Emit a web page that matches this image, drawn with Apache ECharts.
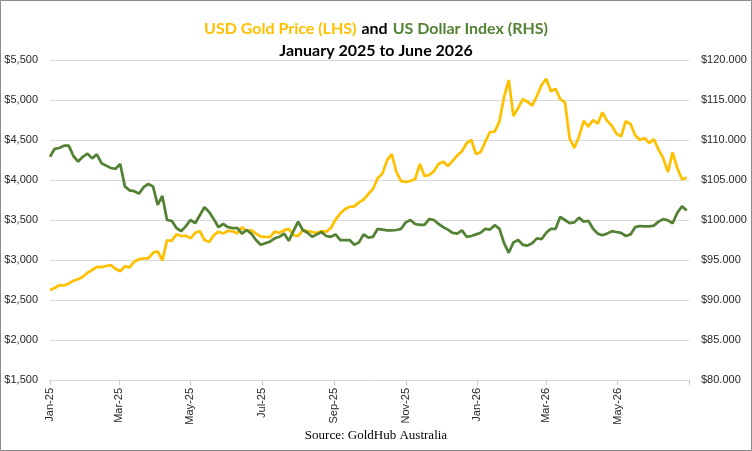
<!DOCTYPE html>
<html>
<head>
<meta charset="utf-8">
<script src="https://cdn.jsdelivr.net/npm/echarts@6/dist/echarts.min.js"></script>
<style>
html,body{margin:0;padding:0;background:#fff;}
#chart{width:752px;height:451px;}
</style>
</head>
<body>
<div id="chart"></div>
<script>
// Dates (every 4 days)
const dates = [
'2025-01-01','2025-01-05','2025-01-09','2025-01-13','2025-01-17','2025-01-21','2025-01-25','2025-01-29','2025-02-02','2025-02-06',
'2025-02-10','2025-02-14','2025-02-18','2025-02-22','2025-02-26','2025-03-02','2025-03-06','2025-03-10','2025-03-14','2025-03-18',
'2025-03-22','2025-03-26','2025-03-30','2025-04-03','2025-04-07','2025-04-11','2025-04-15','2025-04-19','2025-04-23','2025-04-27',
'2025-05-01','2025-05-05','2025-05-09','2025-05-13','2025-05-17','2025-05-21','2025-05-25','2025-05-29','2025-06-02','2025-06-06',
'2025-06-10','2025-06-14','2025-06-18','2025-06-22','2025-06-26','2025-06-30','2025-07-04','2025-07-08','2025-07-12','2025-07-16',
'2025-07-20','2025-07-24','2025-07-28','2025-08-01','2025-08-05','2025-08-09','2025-08-13','2025-08-17','2025-08-21','2025-08-25',
'2025-08-29','2025-09-02','2025-09-06','2025-09-10','2025-09-14','2025-09-18','2025-09-22','2025-09-26','2025-09-30','2025-10-04',
'2025-10-08','2025-10-12','2025-10-16','2025-10-20','2025-10-24','2025-10-28','2025-11-01','2025-11-05','2025-11-09','2025-11-13',
'2025-11-17','2025-11-21','2025-11-25','2025-11-29','2025-12-03','2025-12-07','2025-12-11','2025-12-15','2025-12-19','2025-12-23',
'2025-12-27','2025-12-31','2026-01-04','2026-01-08','2026-01-12','2026-01-16','2026-01-20','2026-01-24','2026-01-28','2026-02-01',
'2026-02-05','2026-02-09','2026-02-13','2026-02-17','2026-02-21','2026-02-25','2026-03-01','2026-03-05','2026-03-09','2026-03-13',
'2026-03-17','2026-03-21','2026-03-25','2026-03-29','2026-04-02','2026-04-06','2026-04-10','2026-04-14','2026-04-18','2026-04-22',
'2026-04-26','2026-04-30','2026-05-04','2026-05-08','2026-05-12','2026-05-16','2026-05-20','2026-05-24','2026-05-28','2026-06-01',
'2026-06-05','2026-06-09','2026-06-13','2026-06-17','2026-06-21','2026-06-25','2026-06-29'
];

// USD Gold Price (LHS)
const goldPrice = [
2625,2650,2687,2680,2705,2741,2760,2790,2840,2875,
2915,2912,2925,2935,2890,2860,2920,2908,2979,3010,
3020,3020,3090,3110,2995,3245,3240,3320,3300,3305,
3270,3340,3360,3250,3225,3310,3354,3330,3365,3360,
3333,3408,3365,3375,3330,3295,3290,3285,3354,3340,
3370,3390,3312,3300,3370,3360,3350,3338,3360,3355,
3400,3505,3580,3635,3667,3670,3720,3755,3825,3890,
4021,4080,4245,4325,4100,3985,3975,3990,4010,4200,
4050,4062,4110,4200,4230,4175,4240,4305,4360,4460,
4500,4325,4350,4479,4600,4605,4730,5040,5250,4800,
4900,5010,4979,4930,5050,5187,5265,5110,5140,5010,
4970,4520,4400,4540,4740,4667,4750,4705,4845,4740,
4680,4580,4545,4735,4700,4560,4500,4525,4460,4510,
4380,4270,4100,4345,4150,4010,4030
];

// US Dollar Index (RHS)
const dollarIndex = [
107.9,108.9,109.0,109.3,109.3,108.0,107.3,107.9,108.3,107.7,
108.2,107.1,106.8,106.5,106.4,107.0,104.2,103.7,103.6,103.3,
104.1,104.5,104.2,101.9,103.0,100.0,99.9,99.0,98.6,99.2,
100.0,99.6,100.6,101.6,101.0,100.1,99.1,99.5,99.1,99.0,
99.0,98.3,98.75,98.3,97.5,96.9,97.1,97.3,97.7,97.9,
98.3,97.4,98.6,99.8,98.75,98.4,97.9,98.2,98.5,98.0,
97.9,98.2,97.5,97.5,97.5,96.9,97.2,98.2,97.8,97.9,
98.9,98.8,98.7,98.7,98.75,98.9,99.7,100.0,99.5,99.4,
99.4,100.1,100.0,99.5,99.1,98.8,98.4,98.3,98.7,97.9,
98.0,98.2,98.4,98.9,98.8,99.35,98.9,97.1,95.9,97.2,
97.5,96.9,96.8,97.1,97.7,97.6,98.4,98.9,98.9,100.4,
100.0,99.6,99.7,100.3,99.8,99.9,98.9,98.3,98.1,98.3,
98.6,98.5,98.4,98.0,98.2,99.1,99.25,99.2,99.2,99.3,
99.8,100.1,99.95,99.6,100.9,101.7,101.2
];

// X-axis tick labels (first of every second month)
const tickLabelDates = ['2025-01-01','2025-03-01','2025-05-01','2025-07-01','2025-09-01','2025-11-01','2026-01-01','2026-03-01','2026-05-01'];
const axisStart = '2025-01-01';
const axisEnd = '2026-07-01';
const monthNames = ['Jan','Feb','Mar','Apr','May','Jun','Jul','Aug','Sep','Oct','Nov','Dec'];

const GOLD = '#FFC000';
const GREEN = '#548235';
const ts = s => new Date(s + 'T00:00:00').getTime();

const chart = echarts.init(document.getElementById('chart'), null, {renderer: 'canvas'});
const labelFont = {fontFamily: 'Liberation Sans', fontSize: 11, color: '#262626'};

chart.setOption({
  animation: false,
  backgroundColor: '#fff',
  title: {
    left: 'center',
    top: 13,
    text: '{g|USD Gold Price (LHS)} {k|and} {d|US Dollar Index (RHS)}\n{k|January 2025 to June 2026}',
    textStyle: {
      rich: {
        g: {color: GOLD, fontFamily: 'Lato', fontWeight: 'bold', fontSize: 16, lineHeight: 22},
        k: {color: '#000', fontFamily: 'Lato', fontWeight: 'bold', fontSize: 16, lineHeight: 22},
        d: {color: GREEN, fontFamily: 'Lato', fontWeight: 'bold', fontSize: 16, lineHeight: 22}
      }
    }
  },
  graphic: [
    {type: 'rect', shape: {x: 0.5, y: 0.5, width: 751, height: 450}, style: {fill: 'none', stroke: '#8a8a8a', lineWidth: 1}, silent: true},
    {type: 'text', left: 'center', top: 429, style: {text: 'Source: GoldHub Australia', fill: '#000', font: '13px "Liberation Serif"'}}
  ],
  grid: {left: 50, right: 63, top: 60, bottom: 71},
  xAxis: {
    type: 'value',
    min: ts(axisStart),
    max: ts(axisEnd),
    axisLine: {show: true, lineStyle: {color: '#d9d9d9', width: 1}},
    axisTick: {show: true, length: 5, lineStyle: {color: '#c8c8c8'}, customValues: tickLabelDates.concat([axisEnd]).map(ts)},
    axisLabel: Object.assign({
      rotate: 90,
      margin: 8,
      customValues: tickLabelDates.map(ts),
      formatter: v => { const d = new Date(v); return monthNames[d.getMonth()] + '-' + String(d.getFullYear()).slice(2); }
    }, labelFont),
    splitLine: {show: false}
  },
  yAxis: [
    {
      type: 'value', min: 1500, max: 5500, interval: 500,
      axisLine: {show: false}, axisTick: {show: false},
      axisLabel: Object.assign({margin: 12, formatter: v => '$' + v.toLocaleString('en-US')}, labelFont),
      splitLine: {show: true, lineStyle: {color: '#d9d9d9', width: 1}}
    },
    {
      type: 'value', min: 80, max: 120, interval: 5, position: 'right',
      axisLine: {show: false}, axisTick: {show: false},
      axisLabel: Object.assign({margin: 12, formatter: v => '$' + v.toFixed(3)}, labelFont),
      splitLine: {show: false}
    }
  ],
  series: [
    {
      name: 'USD Gold Price (LHS)', type: 'line', yAxisIndex: 0, symbol: 'none',
      lineStyle: {color: GOLD, width: 2.75}, itemStyle: {color: GOLD},
      data: dates.map((d, i) => [ts(d), goldPrice[i]])
    },
    {
      name: 'US Dollar Index (RHS)', type: 'line', yAxisIndex: 1, symbol: 'none',
      lineStyle: {color: GREEN, width: 2.75}, itemStyle: {color: GREEN},
      data: dates.map((d, i) => [ts(d), dollarIndex[i]])
    }
  ]
});
</script>
</body>
</html>
